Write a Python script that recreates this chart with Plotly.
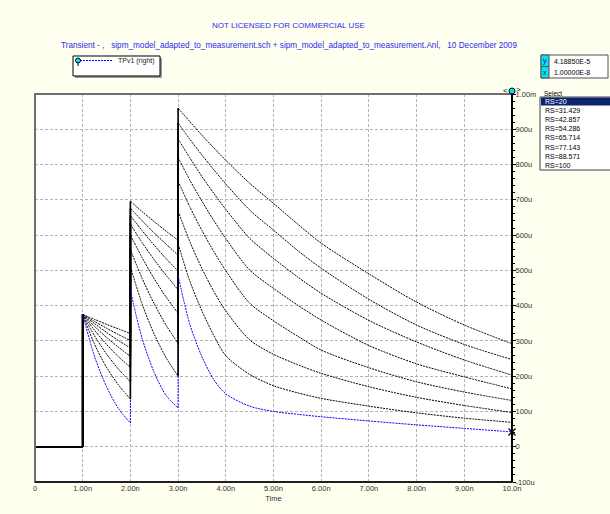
import plotly.graph_objects as go

# ---------------- data (values in microvolts, time in ns) ----------------
time_ns = [0, 1, 1, 1.25, 1.5, 1.75, 2, 2, 2.25, 2.5, 2.75, 3, 3, 3.25, 3.5, 3.75,
           4, 4.5, 5, 5.5, 6, 7, 8, 9, 10]

rs_labels = ["RS=20", "RS=31.429", "RS=42.857", "RS=54.286",
             "RS=65.714", "RS=77.143", "RS=88.571", "RS=100"]

rs20 = [0, 0, 375, 255, 170, 108, 67, 442, 305, 210, 145, 110, 485, 345, 255, 190, 150, 115, 100, 92, 85, 73, 62, 52, 42]
rs31 = [0, 0, 375, 290, 225, 175, 135, 510, 403, 319, 252, 200, 575, 468, 385, 315, 258, 205, 173, 153, 137, 115, 96, 81, 69]
rs43 = [0, 0, 375, 314, 263, 220, 184, 559, 476, 405, 344, 293, 668, 580, 505, 440, 385, 303, 262, 233, 208, 170, 140, 117, 97]
rs54 = [0, 0, 375, 330, 290, 255, 225, 600, 535, 476, 424, 378, 753, 679, 613, 553, 499, 407, 357, 314, 274, 224, 184, 155, 131]
rs66 = [0, 0, 375, 341, 310, 282, 256, 631, 578, 530, 486, 445, 820, 755, 696, 641, 590, 501, 449, 402, 359, 287, 235, 198, 164]
rs77 = [0, 0, 375, 349, 324, 301, 280, 655, 612, 571, 533, 498, 873, 818, 766, 718, 673, 591, 534, 482, 435, 358, 297, 246, 203]
rs89 = [0, 0, 375, 355, 336, 318, 301, 676, 640, 606, 574, 543, 918, 871, 827, 785, 745, 671, 614, 557, 506, 418, 345, 290, 247]
rs100 = [0, 0, 375, 361, 347, 334, 321, 696, 666, 638, 611, 585, 960, 921, 883, 847, 812, 747, 690, 632, 577, 490, 410, 345, 292]

x_ticks = [0, 1, 2, 3, 4, 5, 6, 7, 8, 9, 10]
x_ticktext = ["0", "1.00n", "2.00n", "3.00n", "4.00n", "5.00n", "6.00n", "7.00n", "8.00n", "9.00n", "10.0n"]
y_ticks = [-100, 0, 100, 200, 300, 400, 500, 600, 700, 800, 900, 1000]
y_ticktext = ["-100u", "0", "100u", "200u", "300u", "400u", "500u", "600u", "700u", "800u", "900u", "1.00m"]

cursor_x = 10.0          # 1.00000E-8 s
cursor_y = 41.885        # 4.18850E-5 V
cursor_y_text = "4.18850E-5"
cursor_x_text = "1.00000E-8"

title1 = "NOT LICENSED FOR COMMERCIAL USE"
title2 = ("Transient - ,   sipm_model_adapted_to_measurement.sch + "
          "sipm_model_adapted_to_measurement.Anl,   10 December 2009")
legend_name = "TPv1 (right)"

# ---------------- geometry helpers ----------------
W, H = 610, 514
L, R, T, B = 35, 512, 94, 482
def px(xp):
    return (xp - L) / (R - L)
def py(yp):
    return (B - yp) / (B - T)

FONT = "Arial, Liberation Sans, sans-serif"
BLUE_TXT = "#2B2BF0"
BG = "#FFFFF0"
DOT = "2px,1px"

def split(t, v):
    segs, ct, cv, steps = [], [t[0]], [v[0]], []
    for i in range(1, len(t)):
        if t[i] == t[i - 1]:
            segs.append((ct, cv))
            steps.append((t[i], v[i - 1], v[i]))
            ct, cv = [t[i]], [v[i]]
        else:
            ct.append(t[i]); cv.append(v[i])
    segs.append((ct, cv))
    return segs, steps

fig = go.Figure()

all_curves = [rs20, rs31, rs43, rs54, rs66, rs77, rs89, rs100]

# step parts (flat start + vertical jumps): blue first so black sits on top
for k in range(len(all_curves)):
    segs, steps = split(time_ns, all_curves[k])
    sx, sy = list(segs[0][0]), list(segs[0][1])
    sx.append(None); sy.append(None)
    for (tt, a, b) in steps:
        sx += [tt, tt, None]; sy += [a, b, None]
    if k == 0:
        line = dict(color="#0000FF", width=1, dash=DOT)
    else:
        line = dict(color="#000000", width=1.6)
    fig.add_trace(go.Scatter(x=sx, y=sy, mode="lines", showlegend=False, line=line, hoverinfo="skip"))

# decay parts, dotted; blue on top
for k in list(range(1, len(all_curves))) + [0]:
    segs, steps = split(time_ns, all_curves[k])
    color = "#0000FF" if k == 0 else "#000000"
    dx, dy = [], []
    for (tt, vv) in segs[1:]:
        dx += list(tt) + [None]; dy += list(vv) + [None]
    fig.add_trace(go.Scatter(x=dx, y=dy, mode="lines", name=legend_name if k == 0 else rs_labels[k],
                             showlegend=False, connectgaps=False,
                             line=dict(color=color, width=1, dash=DOT, shape="spline", smoothing=0.8)))

# cursor marker
fig.add_trace(go.Scatter(x=[cursor_x], y=[cursor_y], mode="markers", showlegend=False, cliponaxis=False,
                         marker=dict(symbol="x-thin-open", size=7, color="black",
                                     line=dict(color="black", width=1.3))))

shapes = []
ann = []
# legend box (shadow, box, sample line, pin)
shapes.append(dict(type="rect", xref="paper", yref="paper", x0=px(75), x1=px(162), y0=py(78), y1=py(58),
                   fillcolor="#9A9A9A", line=dict(width=0)))
shapes.append(dict(type="rect", xref="paper", yref="paper", x0=px(73), x1=px(160), y0=py(76), y1=py(56),
                   fillcolor="white", line=dict(color="black", width=1)))
shapes.append(dict(type="line", xref="paper", yref="paper", x0=px(80), x1=px(113), y0=py(60.5), y1=py(60.5),
                   line=dict(color="#0000FF", width=1, dash=DOT)))
shapes.append(dict(type="line", xref="paper", yref="paper", x0=px(78), x1=px(78), y0=py(62), y1=py(66),
                   line=dict(color="black", width=1)))
shapes.append(dict(type="circle", xref="paper", yref="paper", x0=px(75.5), x1=px(80.5), y0=py(63), y1=py(58),
                   fillcolor="#00E5EE", line=dict(color="black", width=1)))
ann.append(dict(text=legend_name, x=px(116), y=py(60.5), xref="paper", yref="paper", showarrow=False,
                font=dict(family=FONT, size=7, color="#222"), xanchor="left", yanchor="middle"))
# cursor box
shapes.append(dict(type="rect", xref="paper", yref="paper", x0=px(541), x1=px(608), y0=py(78), y1=py(55),
                   fillcolor="white", line=dict(color="#505050", width=1)))
shapes.append(dict(type="rect", xref="paper", yref="paper", x0=px(541), x1=px(549), y0=py(78), y1=py(55),
                   fillcolor="#00E5EE", line=dict(color="#505050", width=1)))
shapes.append(dict(type="line", xref="paper", yref="paper", x0=px(541), x1=px(549), y0=py(66.5), y1=py(66.5),
                   line=dict(color="#505050", width=1)))
# select box
shapes.append(dict(type="rect", xref="paper", yref="paper", x0=px(540), x1=px(612), y0=py(170), y1=py(97),
                   fillcolor="white", line=dict(color="#404040", width=1)))
shapes.append(dict(type="rect", xref="paper", yref="paper", x0=px(541), x1=px(611), y0=py(105.5), y1=py(97.5),
                   fillcolor="#0A246A", line=dict(width=0)))
# frame (gray) of plot area
shapes.append(dict(type="rect", xref="paper", yref="paper", x0=0, x1=1, y0=0, y1=1,
                   line=dict(color="#6E6E6E", width=2), fillcolor="rgba(0,0,0,0)"))
shapes.append(dict(type="line", xref="paper", yref="paper", x0=0, x1=1, y0=0, y1=0,
                   line=dict(color="#202020", width=2)))
shapes.append(dict(type="line", xref="paper", yref="paper", x0=1, x1=1, y0=0, y1=1,
                   line=dict(color="black", width=2)))
# top cursor handle
shapes.append(dict(type="circle", xref="paper", yref="paper", x0=px(509), x1=px(515), y0=py(94), y1=py(88),
                   fillcolor="#00E5EE", line=dict(color="black", width=1)))

ann.append(dict(text=title1, x=px(288), y=py(26), xref="paper", yref="paper", showarrow=False,
                font=dict(family=FONT, size=8, color=BLUE_TXT), xanchor="center", yanchor="middle"))
ann.append(dict(text=title2, x=px(288.5), y=py(45), xref="paper", yref="paper", showarrow=False,
                font=dict(family=FONT, size=8.2, color=BLUE_TXT), xanchor="center", yanchor="middle"))
ann.append(dict(text="y", x=px(545), y=py(61), xref="paper", yref="paper", showarrow=False,
                font=dict(family=FONT, size=7, color="#000080"), xanchor="center", yanchor="middle"))
ann.append(dict(text="x", x=px(545), y=py(72), xref="paper", yref="paper", showarrow=False,
                font=dict(family=FONT, size=7, color="#000080"), xanchor="center", yanchor="middle"))
ann.append(dict(text=cursor_y_text, x=px(552), y=py(61), xref="paper", yref="paper", showarrow=False,
                font=dict(family=FONT, size=7, color="black"), xanchor="left", yanchor="middle"))
ann.append(dict(text=cursor_x_text, x=px(552), y=py(72), xref="paper", yref="paper", showarrow=False,
                font=dict(family=FONT, size=7, color="black"), xanchor="left", yanchor="middle"))
ann.append(dict(text="Select", x=px(542), y=py(93), xref="paper", yref="paper", showarrow=False,
                font=dict(family=FONT, size=6.5, color="black"), xanchor="left", yanchor="middle"))
for i, lab in enumerate(rs_labels):
    ann.append(dict(text=lab, x=px(543), y=py(101.5 + 9.1 * i), xref="paper", yref="paper", showarrow=False,
                    font=dict(family=FONT, size=7, color="white" if i == 0 else "black"),
                    xanchor="left", yanchor="middle"))
ann.append(dict(text="<", x=px(505.5), y=py(90), xref="paper", yref="paper", showarrow=False,
                font=dict(family=FONT, size=8, color="black"), xanchor="center", yanchor="middle"))
ann.append(dict(text=">", x=px(518), y=py(89.5), xref="paper", yref="paper", showarrow=False,
                font=dict(family=FONT, size=8, color="black"), xanchor="center", yanchor="middle"))

grid = dict(showgrid=True, gridcolor="#B4B4B4", gridwidth=1, griddash="3px,2px")

fig.update_layout(
    width=W, height=H,
    margin=dict(l=L, r=W - R, t=T, b=H - B, pad=0, autoexpand=False),
    paper_bgcolor=BG, plot_bgcolor="white",
    font=dict(family=FONT, size=7.5, color="#333333"),
    shapes=shapes, annotations=ann, showlegend=False,
    xaxis=dict(range=[0, 10], tickvals=x_ticks, ticktext=x_ticktext, ticks="", zeroline=False,
               showline=False, tickfont=dict(size=7.5, color="#333"), automargin=False,
               title=dict(text="Time", font=dict(size=7.5, color="#333"), standoff=4), **grid),
    yaxis=dict(range=[-100, 1000], tickvals=y_ticks, ticktext=y_ticktext, side="right", zeroline=False,
               showline=False, ticks="outside", ticklen=3, tickcolor="black", automargin=False,
               ticklabelstandoff=-2,
               tickfont=dict(size=7.5, color="#333"),
               minor=dict(dtick=20, ticks="outside", ticklen=2, tickcolor="black", showgrid=False), **grid),
)

fig.write_html("out.html", config={"displayModeBar": False},
               post_script="document.body.style.margin='0px';document.body.style.background='" + BG + "';")
